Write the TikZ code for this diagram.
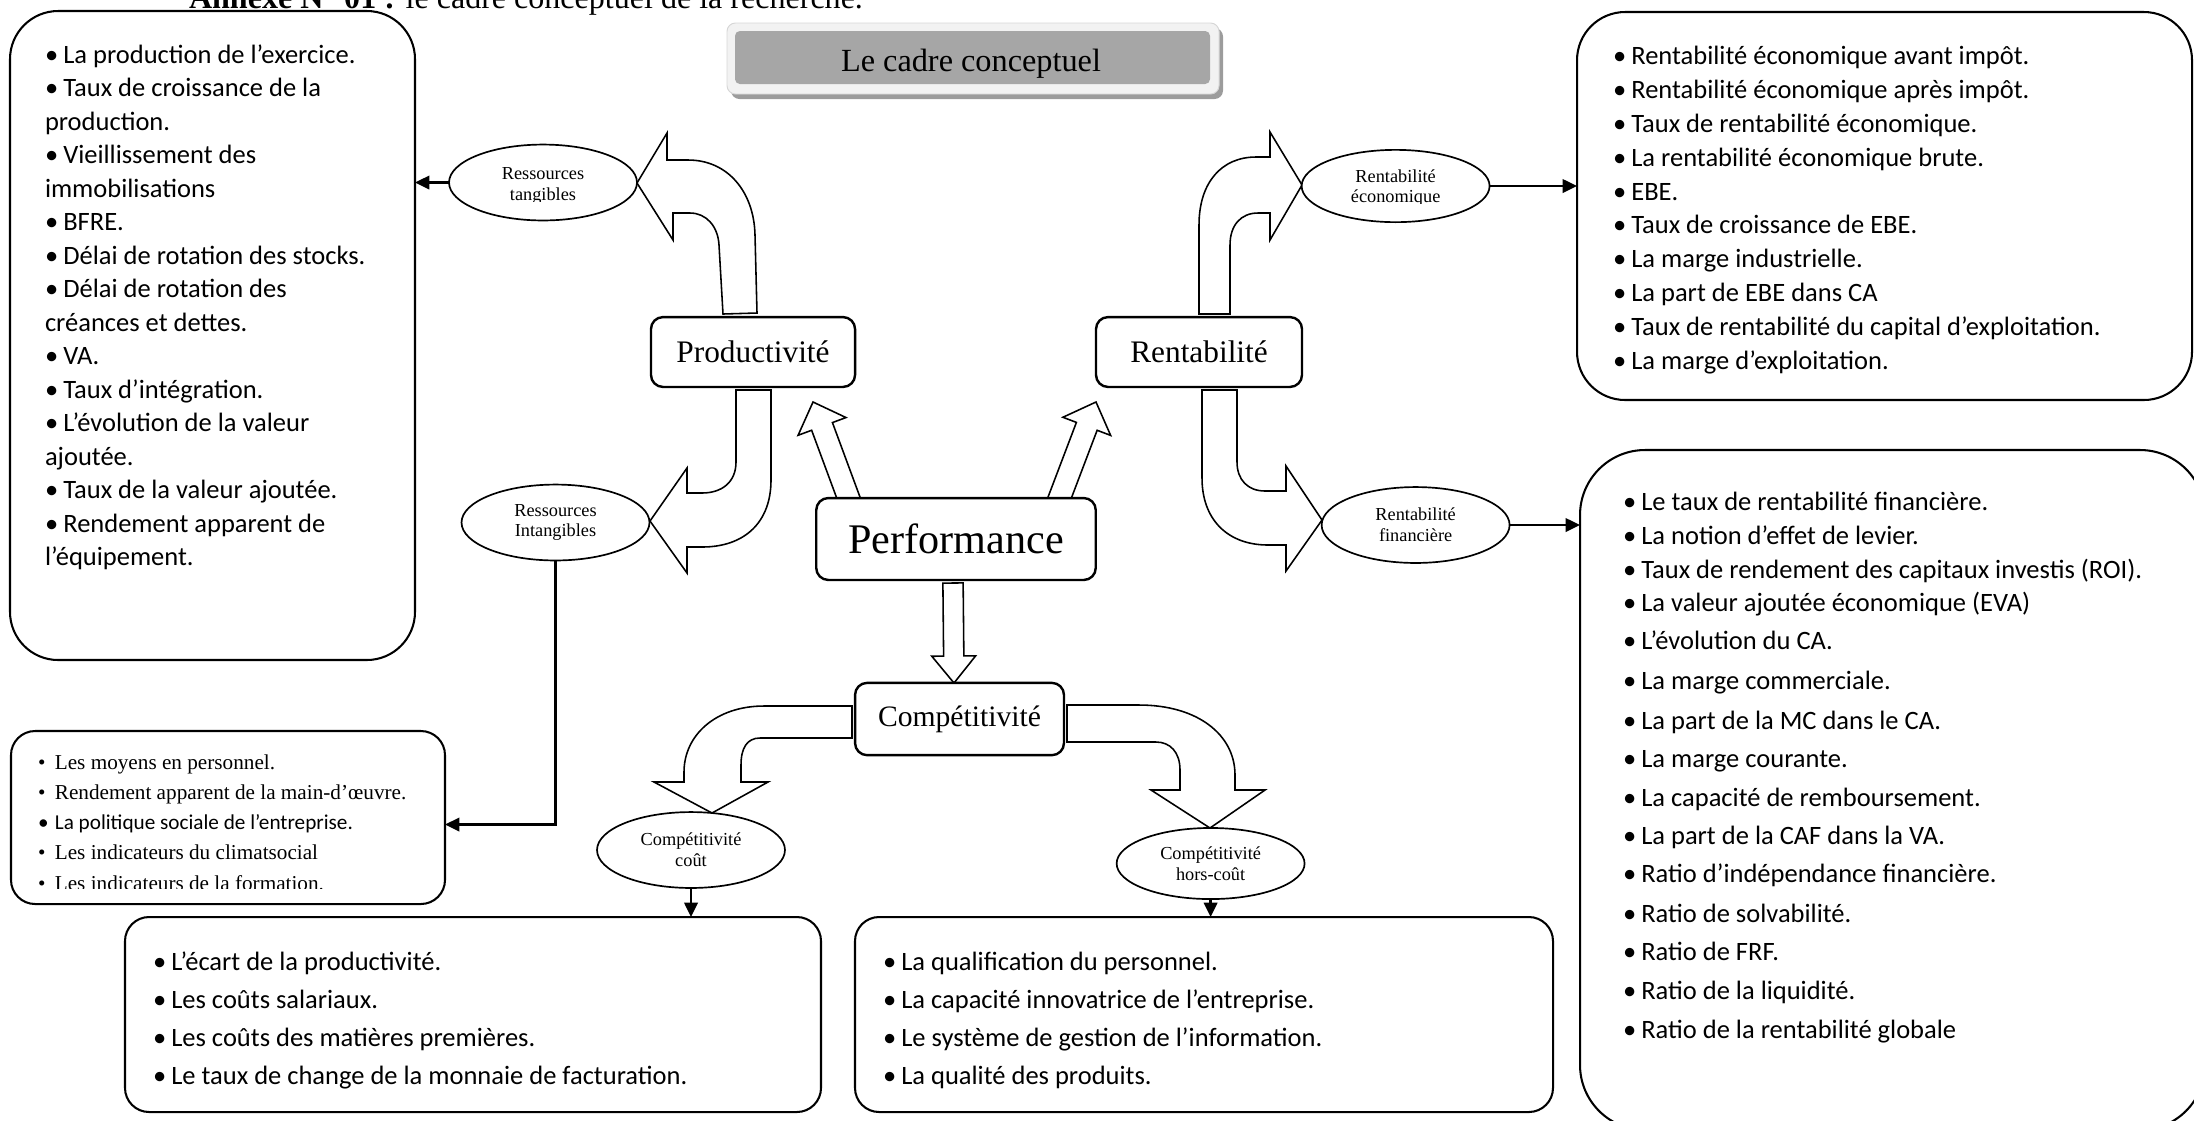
\documentclass[tikz,border=0pt]{standalone}
\usepackage{fontspec}
\setmainfont{Liberation Serif}
\newfontfamily\calfont{Carlito}
\usetikzlibrary{calc,fit,shapes.geometric,arrows.meta}

\definecolor{titlegray}{HTML}{A6A6A6}
\definecolor{rimgray}{HTML}{F2F2F2}
\definecolor{rimline}{HTML}{D6D6D6}
\definecolor{shadegray}{HTML}{9C9C9C}

% bullets with a fixed gap before the item text
\newcommand\bul{\makebox[7.6pt][l]{•}}
\newcommand\tbul{\makebox[7pt][l]{•}}

% straight block arrow: #1 start, #2 tip, #3 shaft half width, #4 head half width, #5 head length, #6 name
\newcommand\blockarrow[6]{%
  \coordinate (#6-h) at ($(#2)!#5!(#1)$);
  \draw[barrow] ($(#1)!#3!90:(#2)$) -- ($(#6-h)!#3!90:(#2)$) -- ($(#6-h)!#4!90:(#2)$)
    -- (#2) -- ($(#6-h)!#4!-90:(#2)$) -- ($(#6-h)!#3!-90:(#2)$) -- ($(#1)!#3!-90:(#2)$) -- cycle;
}

\begin{document}
\begin{tikzpicture}[x=0.415pt,y=-0.415pt,
  every node/.style={inner sep=0pt, outer sep=0pt},
  listbox/.style={draw, line width=0.85pt, rounded corners=#1, fill=white},
  listbox/.default=10pt,
  mainbox/.style={draw, line width=1pt, rounded corners=5pt, fill=white,
    minimum height=29pt, font=\fontsize{13}{15}\selectfont},
  oval/.style={ellipse, draw, line width=0.7pt, fill=white,
    minimum width=78pt, minimum height=31.5pt, align=center,
    font=\fontsize{7.6}{8.6}\selectfont},
  otext/.style={align=center, font=\fontsize{7.6}{8.6}\selectfont},
  item/.style={anchor=base west, font=\calfont\fontsize{11}{13}\selectfont},
  titem/.style={anchor=base west, font=\fontsize{8.8}{10}\selectfont},
  barrow/.style={draw, line width=0.65pt, fill=white, line join=miter},
  conn/.style={line width=1pt, -{Triangle[length=6pt,width=5.6pt]}},
]
\useasboundingbox (0,0) rectangle (2194,1120);
\clip (0,0) rectangle (2194,1120);

% caption above the frame
\node[anchor=base west, font=\fontsize{13.3}{15}\selectfont] (caption) at (189,8)
  {\textbf{Annexe N° 01 :} le cadre conceptuel de la recherche.};

% title plate
\fill[shadegray, rounded corners=3.5pt] (731,28) rectangle (1223,99);
\filldraw[fill=rimgray, draw=rimline, line width=0.4pt, rounded corners=3.5pt] (727,23) rectangle (1219,94);
\node[fill=titlegray, rounded corners=2pt, fit={(735,31) (1210,84)}] (titlebox) {};
\node[anchor=base, font=\fontsize{13.4}{15}\selectfont] (title) at (971,71) {Le cadre conceptuel};

% ---------- block arrows ----------
% Productivite -> Ressources tangibles
\draw[barrow] (723,314) -- (719,245) .. controls (718,226) and (706,213) .. (690,213) -- (673,213)
  -- (673,240) -- (637,183) -- (667,133) -- (667,160) -- (688,160)
  .. controls (728,160) and (754,192) .. (755,235) -- (757,313) -- cycle;
% Productivite -> Ressources intangibles
\draw[barrow] (736,390) -- (736,462) .. controls (736,482) and (722,493) .. (702,493) -- (687,493)
  -- (687,468) -- (650,521) -- (687,573) -- (687,547) -- (702,547)
  .. controls (745,547) and (771,522) .. (771,480) -- (771,390) -- cycle;
% Rentabilite -> Rentabilite economique
\draw[barrow] (1199,314) -- (1199,225) .. controls (1199,182) and (1222,157) .. (1256,157) -- (1270,157)
  -- (1270,132) -- (1302,185) -- (1270,240) -- (1270,213) -- (1258,213)
  .. controls (1241,213) and (1230,225) .. (1230,245) -- (1230,314) -- cycle;
% Rentabilite -> Rentabilite financiere
\draw[barrow] (1202,390) -- (1202,478) .. controls (1202,520) and (1228,545) .. (1268,545) -- (1286,545)
  -- (1286,571) -- (1322,520) -- (1286,466) -- (1286,491) -- (1265,491)
  .. controls (1248,491) and (1237,480) .. (1237,462) -- (1237,390) -- cycle;
% Competitivite -> competitivite cout
\draw[barrow] (852,706) -- (764,706) .. controls (716,706) and (684,735) .. (684,772) -- (684,782)
  -- (654,782) -- (712,813) -- (768,782) -- (741,782) -- (741,765)
  .. controls (741,748) and (747,738) .. (760,738) -- (852,738) -- cycle;
% Competitivite -> competitivite hors-cout
\draw[barrow] (1067,705) -- (1139,705) .. controls (1198,705) and (1235,735) .. (1235,775) -- (1235,790)
  -- (1265,790) -- (1210,828) -- (1151,790) -- (1180,790) -- (1180,770)
  .. controls (1180,752) and (1170,742) .. (1156,742) -- (1067,742) -- cycle;

% straight block arrows out of Performance
\coordinate (pp-s) at (850,502);
\coordinate (pp-t) at (813,402);
\coordinate (pr-s) at (1058,502);
\coordinate (pr-t) at (1096,402);
\coordinate (pc-s) at (953,583);
\coordinate (pc-t) at (954,683);
\blockarrow{pp-s}{pp-t}{4.6pt}{10.6pt}{10.8pt}{pp}
\blockarrow{pr-s}{pr-t}{4.6pt}{10.6pt}{10.8pt}{pr}
\blockarrow{pc-s}{pc-t}{4.2pt}{9.1pt}{11.2pt}{pc}

% ---------- central concepts ----------
\node[mainbox, minimum width=84.7pt] (P) at (753,352) {Productivité};
\node[mainbox, minimum width=85.5pt] (R) at (1199,352) {Rentabilité};
\node[mainbox, minimum width=116pt, minimum height=34pt,
  font=\fontsize{17.5}{20}\selectfont] (Perf) at (956,539) {Performance};
\node[mainbox, minimum width=86.7pt, minimum height=30pt,
  font=\fontsize{12.3}{14}\selectfont] (C) at (959.5,719) {Compétitivité};

% ---------- ovals ----------
\node[oval] (RT) at (543,182.5) {};
\begin{scope}
  \clip (440,140) rectangle (650,201.5);
  \node[otext] (RT-t) at (543,186) {Ressources\\tangibles};
\end{scope}
\node[oval] (RI) at (555.5,522.5) {Ressources\\Intangibles};
\node[oval, minimum height=30pt] (RE) at (1395.6,186) {};
\begin{scope}
  \clip (1300,140) rectangle (1495,203);
  \node[otext] (RE-t) at (1395.6,188) {Rentabilité\\économique};
\end{scope}
\node[oval] (RF) at (1415.6,525) {Rentabilité\\financière};
\node[oval] (CC) at (691,850) {Compétitivité\\coût};
\node[oval, minimum height=29.5pt] (HC) at (1210.6,863.5) {Compétitivité\\hors-coût};

% ---------- indicator boxes ----------
\node[listbox=20pt, fit={(10,11) (415,660)}] (A) {};
\foreach \yy/\tx [count=\i] in {
  63/{\bul La production de l’exercice.},
  96.5/{\bul Taux de croissance de la},
  130/{production.},
  163.5/{\bul Vieillissement des},
  197/{immobilisations},
  230.5/{\bul BFRE.},
  264/{\bul Délai de rotation des stocks.},
  297.5/{\bul Délai de rotation des},
  331/{créances et dettes.},
  364.5/{\bul VA.},
  398/{\bul Taux d’intégration.},
  431.5/{\bul L’évolution de la valeur},
  465/{ajoutée.},
  498.5/{\bul Taux de la valeur ajoutée.},
  532/{\bul Rendement apparent de},
  565.5/{l’équipement.}}
  \node[item] (A\i) at (45,\yy) {\tx};

\node[listbox=20pt, fit={(1577,12) (2192,400)}] (Cbox) {};
\foreach \yy/\tx [count=\i] in {
  64/{Rentabilité économique avant impôt.},
  98/{Rentabilité économique après impôt.},
  132/{Taux de rentabilité économique.},
  166/{La rentabilité économique brute.},
  200/{EBE.},
  233/{Taux de croissance de EBE.},
  267/{La marge industrielle.},
  301/{La part de EBE dans CA},
  335/{Taux de rentabilité du capital d’exploitation.},
  369/{La marge d’exploitation.}}
  \node[item] (C\i) at (1613,\yy) {\bul\tx};

\node[listbox=27pt, fit={(1580,450) (2205,1130)}] (D) {};
\foreach \yy/\tx [count=\i] in {
  510/{Le taux de rentabilité financière.},
  544/{La notion d’effet de levier.},
  578/{Taux de rendement des capitaux investis (ROI).},
  611/{La valeur ajoutée économique (EVA)},
  649/{L’évolution du CA.},
  689.5/{La marge commerciale.},
  729/{La part de la MC dans le CA.},
  767/{La marge courante.},
  806/{La capacité de remboursement.},
  844/{La part de la CAF dans la VA.},
  882/{Ratio d’indépendance financière.},
  922/{Ratio de solvabilité.},
  960/{Ratio de FRF.},
  999/{Ratio de la liquidité.},
  1038/{Ratio de la rentabilité globale}}
  \node[item] (D\i) at (1623,\yy) {\bul\tx};

\node[listbox, fit={(125,917) (821,1112)}] (E) {};
\foreach \yy/\tx [count=\i] in {
  970/{L’écart de la productivité.},
  1008/{Les coûts salariaux.},
  1046/{Les coûts des matières premières.},
  1084/{Le taux de change de la monnaie de facturation.}}
  \node[item] (E\i) at (153,\yy) {\bul\tx};

\node[listbox, fit={(855,917) (1553,1112)}] (F) {};
\foreach \yy/\tx [count=\i] in {
  970/{La qualification du personnel.},
  1008/{La capacité innovatrice de l’entreprise.},
  1046/{Le système de gestion de l’information.},
  1084/{La qualité des produits.}}
  \node[item] (F\i) at (883,\yy) {\bul\tx};

\node[listbox, fit={(11,731) (445,904)}] (B) {};
\node[titem] (B1) at (38,769) {\tbul Les moyens en personnel.};
\node[titem] (B2) at (38,799) {\tbul Rendement apparent de la main-d’œuvre.};
\node[titem, font=\calfont\fontsize{8.8}{10}\selectfont] (B3) at (38,829) {\tbul La politique sociale de l’entreprise.};
\node[titem] (B4) at (38,859) {\tbul Les indicateurs du climatsocial};
\begin{scope}
  \clip (11,731) rectangle (445,888);
  \node[titem] (B5) at (38,890) {\tbul Les indicateurs de la formation.};
\end{scope}

% ---------- connectors ----------
\draw[conn] (RT.west) -- (RT.west -| A.east);
\draw[conn] (RE.east) -- (RE.east -| Cbox.west);
\draw[conn] (RF.east) -- (RF.east -| D.west);
\draw[conn] (RI.south) |- ($(B.east)+(0,7)$);
\draw[conn] (CC.south) -- (CC.south |- E.north);
\draw[conn] (HC.south) -- (HC.south |- F.north);
\end{tikzpicture}
\end{document}
